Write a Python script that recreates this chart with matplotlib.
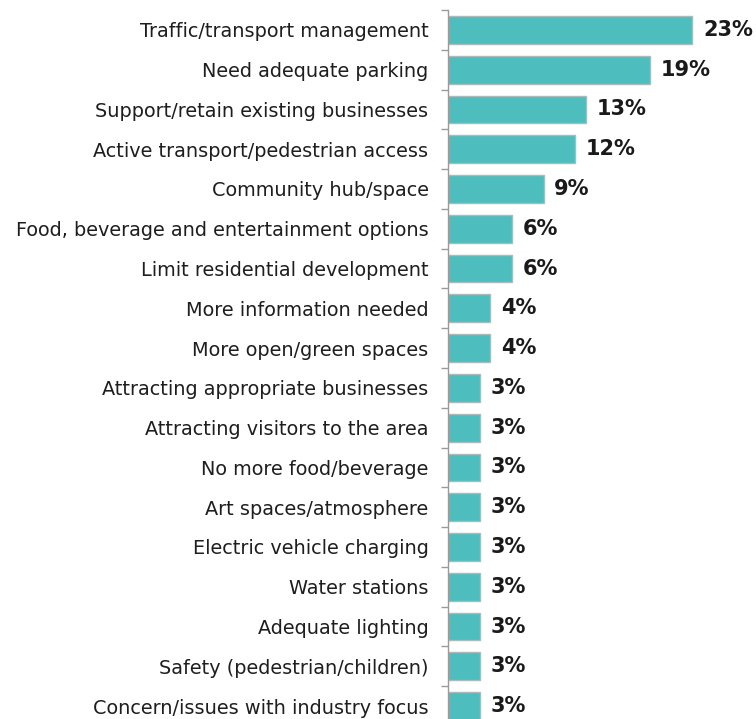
import matplotlib
matplotlib.use('Agg')
import matplotlib.pyplot as plt
import numpy as np

categories = [
    'Traffic/transport management',
    'Need adequate parking',
    'Support/retain existing businesses',
    'Active transport/pedestrian access',
    'Community hub/space',
    'Food, beverage and entertainment options',
    'Limit residential development',
    'More information needed',
    'More open/green spaces',
    'Attracting appropriate businesses',
    'Attracting visitors to the area',
    'No more food/beverage',
    'Art spaces/atmosphere',
    'Electric vehicle charging',
    'Water stations',
    'Adequate lighting',
    'Safety (pedestrian/children)',
    'Concern/issues with industry focus',
]
percent = [23, 19, 13, 12, 9, 6, 6, 4, 4, 3, 3, 3, 3, 3, 3, 3, 3, 3]

fig = plt.figure(figsize=(7.56, 7.19), dpi=100)
ax = fig.add_axes([448 / 756, 1 - 726 / 719, 1 - 448 / 756, 716 / 719])

y = np.arange(len(categories))
ax.barh(y, percent, height=0.7, color='#4dbdbd', edgecolor='#a9bcbc', linewidth=1.0)

for yi, v in zip(y, percent):
    ax.text(v + 1.0, yi, '%d%%' % v, va='center', ha='left',
            fontsize=15, fontweight='bold', family='DejaVu Sans', color='#1a1a1a')

ax.set_xlim(0, 29)
ax.set_ylim(len(categories) - 0.5, -0.5)
ax.set_yticks(y)
ax.set_yticklabels(categories, fontsize=13.9, family='DejaVu Sans', color='#1e1e1e')
ax.set_yticks(np.arange(len(categories) + 1) - 0.5, minor=True)
ax.tick_params(axis='y', which='major', length=0, pad=14)
ax.tick_params(axis='y', which='minor', length=5, width=1, color='#9a9a9a')
ax.set_xticks([])

for s in ['top', 'right', 'bottom']:
    ax.spines[s].set_visible(False)
ax.spines['left'].set_color('#9a9a9a')
ax.spines['left'].set_linewidth(1)

fig.savefig('out.png', dpi=100)
